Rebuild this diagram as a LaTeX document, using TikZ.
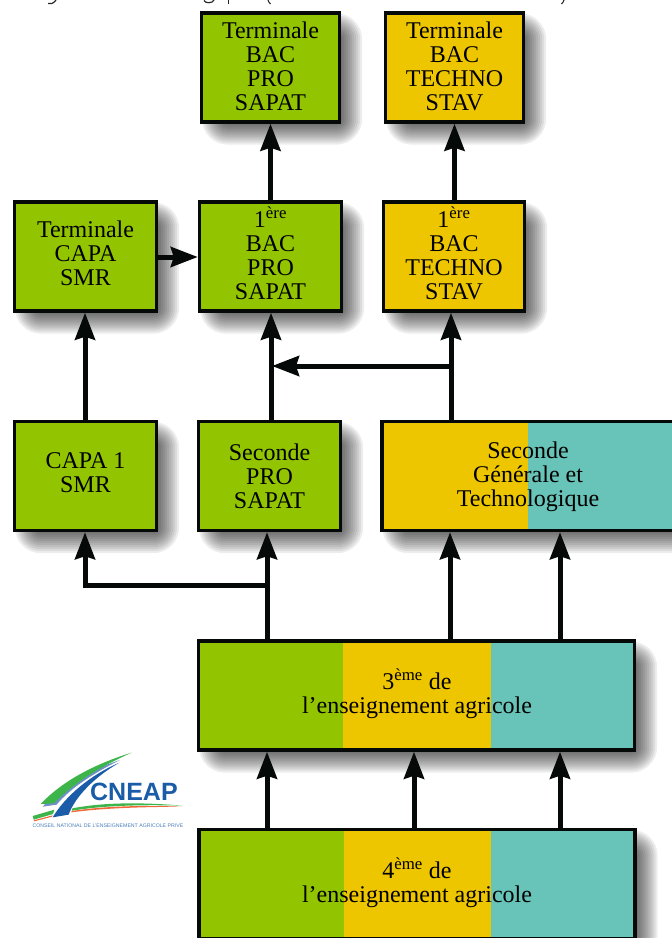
\documentclass[tikz,border=0pt]{standalone}
\usepackage{fontspec}
\setmainfont{Liberation Serif}
\newfontfamily\logofont{Liberation Sans}
\usetikzlibrary{arrows.meta,calc,backgrounds}
\definecolor{cgreen}{HTML}{92C500}
\definecolor{cyellow}{HTML}{EEC600}
\definecolor{cteal}{HTML}{68C3B8}
\definecolor{cink}{HTML}{050A08}
\definecolor{logoblue}{HTML}{1A5CA8}
\definecolor{logogreen}{HTML}{3DB54A}
\definecolor{logogrey}{HTML}{6F8FC8}
\definecolor{logored}{HTML}{F0683A}
\pgfdeclarelayer{shadowlayer}
\pgfdeclarelayer{bandlayer}
\pgfsetlayers{shadowlayer,bandlayer,main}
\tikzset{
  x=1pt,y=-1pt,
  boxfont/.style={font=\fontsize{24}{24}\selectfont},
  box/.style={draw=cink,line width=3.4pt,minimum height=109pt,inner sep=0pt,align=center,boxfont,text=black},
  greenbox/.style={box,fill=cgreen},
  yellowbox/.style={box,fill=cyellow},
  bandbox/.style={box},
  overlay text/.style={boxfont,align=center,inner sep=0pt,text=black},
  link/.style={draw=cink,line width=5pt},
  arrowlink/.style={link,-{Stealth[length=27pt,width=20pt,inset=3pt]}},
}
% blurred drop shadow of a named node
\newcommand{\dropshadow}[1]{%
  \begin{pgfonlayer}{shadowlayer}
    \foreach \g in {-11,-9,...,11}{
      \fill[black,opacity=.07,rounded corners={(\g+15)*1pt}]
        ($(#1.north west)+(13-\g,13-\g)$) rectangle ($(#1.south east)+(10+\g,10+\g)$);
    }
  \end{pgfonlayer}}
\begin{document}
\begin{tikzpicture}
\useasboundingbox (0,0) rectangle (672,938);
\clip (0,0) rectangle (672,938);

% remnants of the cut-off caption line
\draw[line width=1.2pt,black!85] (48,3.5) -- (52,3.5) .. controls (54,3) and (55,1) .. (56,0);
\draw[line width=1.2pt,black!85] (204,0.5) .. controls (205,3.5) and (213,3.5) .. (214,0);
\draw[line width=1.3pt,black!85] (228.5,0) -- (228.5,3.5);
\draw[line width=1.1pt,black!85] (268,0) .. controls (268.5,2) and (269.5,3) .. (270.5,4);
\draw[line width=1.1pt,black!85] (564,0) .. controls (563.5,2) and (562.5,3) .. (561.5,4);

% boxes
\node[greenbox,minimum width=138pt,text depth=2pt] (t1) at (270.5,67.5) {Terminale\\BAC\\PRO\\SAPAT};
\node[yellowbox,minimum width=138pt,text depth=2pt] (t2) at (454.5,67.5) {Terminale\\BAC\\TECHNO\\STAV};
\node[greenbox,minimum width=142pt,text depth=6pt] (tc) at (85.5,256.5) {Terminale\\CAPA\\SMR};
\node[greenbox,minimum width=142pt,text depth=6pt] (p1) at (270.5,256.5) {1\textsuperscript{ère}\\BAC\\PRO\\SAPAT};
\node[yellowbox,minimum width=141pt,text depth=6pt] (p2) at (454,256.5) {1\textsuperscript{ère}\\BAC\\TECHNO\\STAV};
\node[greenbox,minimum width=142pt,text depth=6pt] (c1) at (85.5,476) {CAPA 1\\SMR};
\node[greenbox,minimum width=142pt] (s1) at (269.5,476) {\rule{0pt}{18pt}Seconde\\PRO\\SAPAT};
\node[bandbox,minimum width=400pt] (s2) at (582,476) {};
\node[overlay text] (s2t) at (528,477) {Seconde\\Générale et\\Technologique};
\node[bandbox,minimum width=436pt] (n3) at (416.5,695.5) {};
\node[overlay text] (n3t) at (417,694) {3\textsuperscript{ème} de\\l’enseignement agricole};
\node[bandbox,minimum width=436pt] (n4) at (417,884) {};
\node[overlay text] (n4t) at (417,883) {4\textsuperscript{ème} de\\l’enseignement agricole};

\foreach \n in {t1,t2,tc,p1,p2,c1,s1,s2,n3,n4}{\dropshadow{\n}}

% colour bands
\begin{pgfonlayer}{bandlayer}
  \fill[cyellow] (s2.north west) rectangle (528,531);
  \fill[cteal] (528,421) rectangle (s2.south east);
  \fill[cgreen] (n3.north west) rectangle (343,750);
  \fill[cyellow] (343,641) rectangle (491,750);
  \fill[cteal] (491,641) rectangle (n3.south east);
  \fill[cgreen] (n4.north west) rectangle (344,938);
  \fill[cyellow] (344,830) rectangle (491,938);
  \fill[cteal] (491,830) rectangle (n4.south east);
\end{pgfonlayer}

% x positions of the connectors
\coordinate (xa) at (85,0);
\coordinate (xb) at (271,0);
\coordinate (xc) at (451,0);
\coordinate (xd) at (267,0);
\coordinate (xe) at (450,0);
\coordinate (xf) at (560,0);
\coordinate (xg) at (414,0);
\coordinate (ya) at (0,366);
\coordinate (yb) at (0,585);
\coordinate (yc) at (0,257);

% connectors
\draw[arrowlink] (p1.north) -- (t1.south);
\draw[arrowlink] (p2.north -| t2.south) -- (t2.south);
\draw[arrowlink] (tc.east |- yc) -- (p1.west |- yc);
\draw[arrowlink] (c1.north -| xa) -- (tc.south -| xa);
\draw[arrowlink] (s1.north -| xb) -- (p1.south -| xb);
\draw[arrowlink] (s2.north -| xc) -- (p2.south -| xc);
\draw[arrowlink] (xc |- ya) -- ([xshift=1pt]xb |- ya);
\draw[arrowlink] (n3.north -| xd) -- (s1.south -| xd);
\draw[arrowlink] (xd |- yb) -- (xa |- yb) -- (c1.south -| xa);
\draw[arrowlink] (n3.north -| xe) -- (s2.south -| xe);
\draw[arrowlink] (n3.north -| xf) -- (s2.south -| xf);
\draw[arrowlink] (n4.north -| xd) -- (n3.south -| xd);
\draw[arrowlink] (n4.north -| xg) -- (n3.south -| xg);
\draw[arrowlink] (n4.north -| xf) -- (n3.south -| xf);

% logo
\begin{scope}[shift={(20,740)},scale=1/3]
  \fill[logogrey] (68,200) .. controls (130,130) and (210,90) .. (300,60) .. controls (220,100) and (150,145) .. (110,194) -- cycle;
  \fill[logogreen] (62,192) .. controls (130,120) and (230,70) .. (335,38) .. controls (240,80) and (160,130) .. (102,190) -- cycle;
  \fill[logoblue] (298,68) .. controls (210,105) and (135,170) .. (98,232) -- (146,224) .. controls (165,170) and (225,110) .. (298,68) -- cycle;
  \fill[logogreen] (38,228) -- (103,209) -- (99,222) -- (41,239) -- cycle;
  \fill[logored] (41,241) -- (98,226) -- (96,230) -- (43,244) -- cycle;
  \fill[logogreen] (157,205) .. controls (260,185) and (380,188) .. (488,197) .. controls (380,194) and (260,195) .. (156,212) -- cycle;
  \fill[logored] (155,213) .. controls (260,197) and (380,196) .. (488,200) .. controls (380,201) and (260,203) .. (154,217) -- cycle;
  \node[inner sep=0pt,text=logoblue,anchor=west,font=\logofont\bfseries\fontsize{25}{25}\selectfont] (logoname) at (210,157) {CNEAP};
  \node[inner sep=0pt,text=logoblue!80,anchor=west,font=\logofont\fontsize{5.2}{6}\selectfont] (logotext) at (37,257) {CONSEIL NATIONAL DE L’ENSEIGNEMENT AGRICOLE PRIVE};
\end{scope}
\end{tikzpicture}
\end{document}
